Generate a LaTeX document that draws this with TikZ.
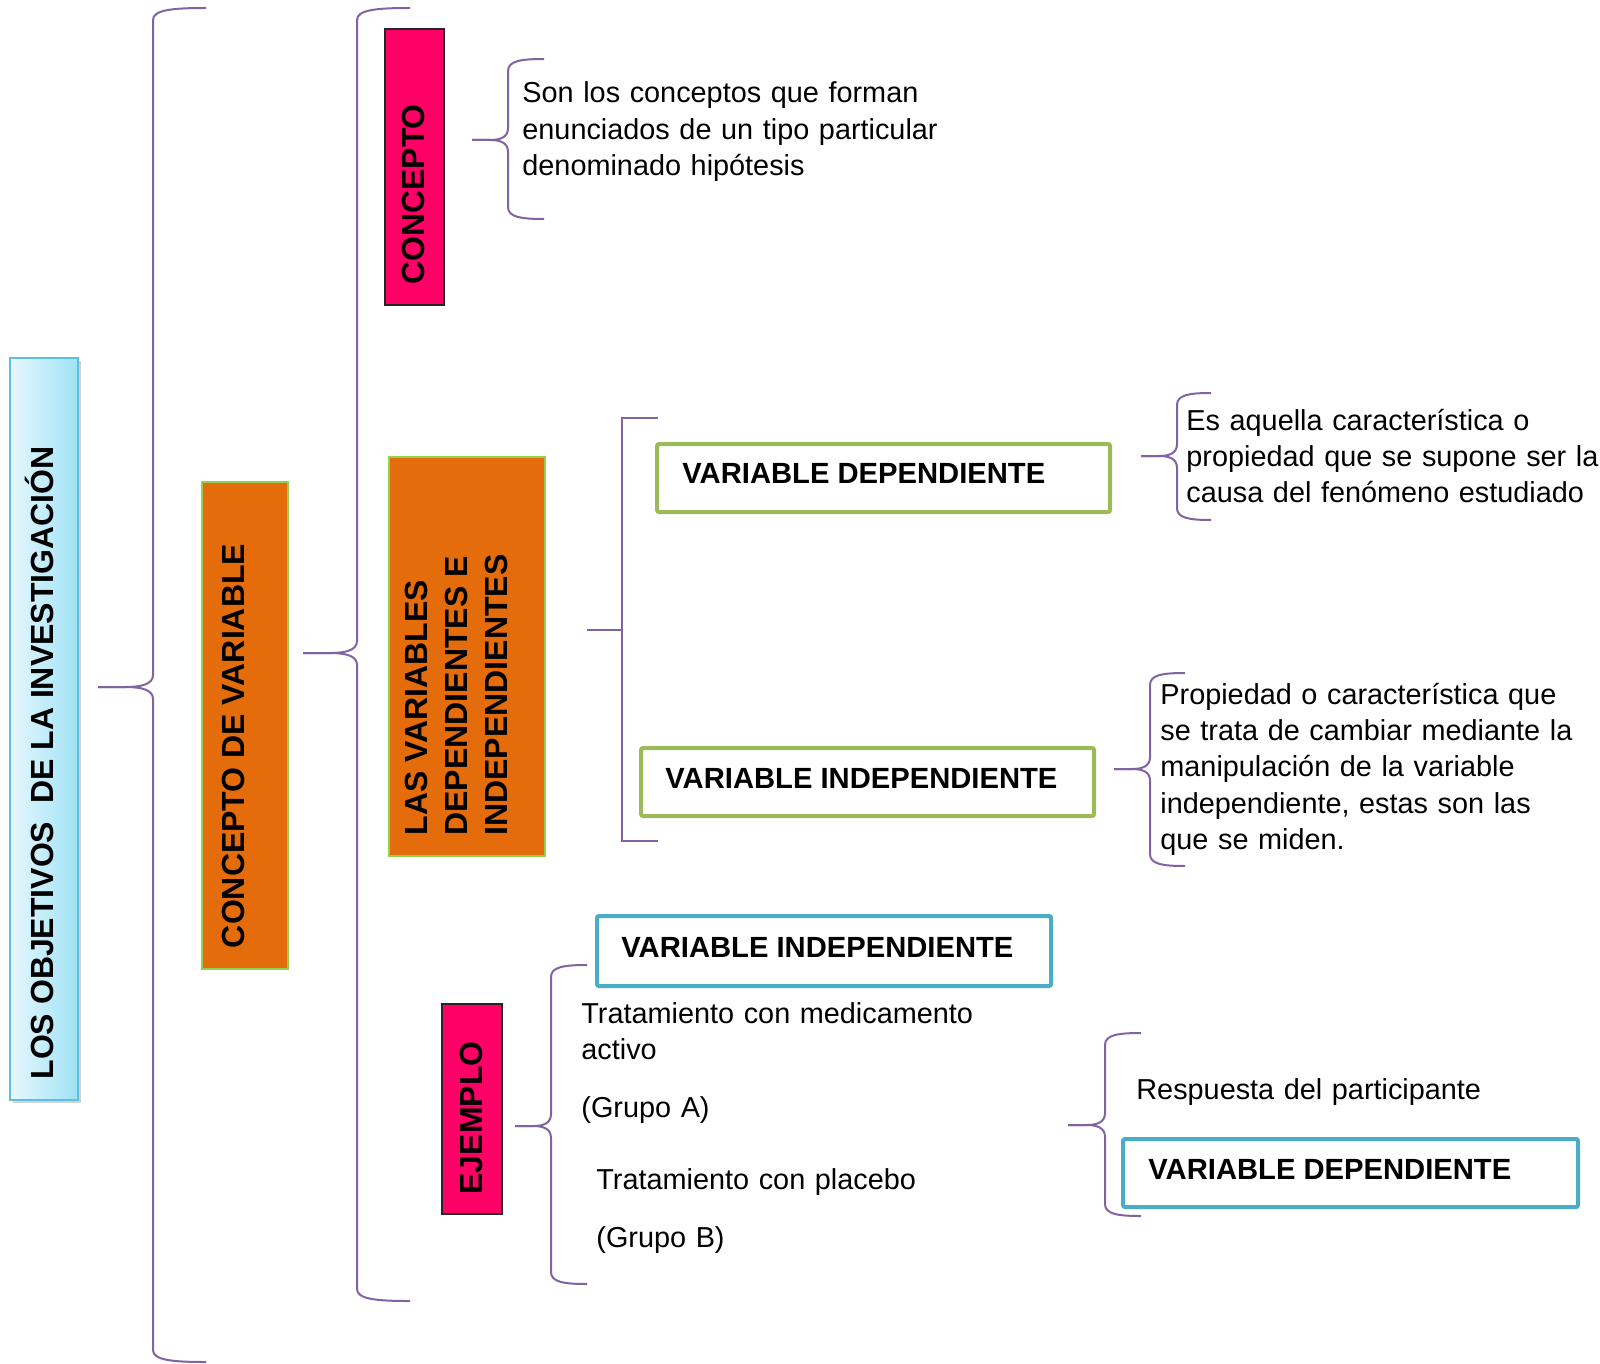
\documentclass[tikz,border=0pt]{standalone}
\usepackage{fontspec}
\setmainfont{Liberation Sans}
\usetikzlibrary{shadows}
\definecolor{lnpurple}{HTML}{8064A2}
\definecolor{pinkfill}{HTML}{FF0066}
\definecolor{orangefill}{HTML}{E46C0A}
\definecolor{greenborder}{HTML}{9BBB59}
\definecolor{blueborder}{HTML}{4BACC6}
\definecolor{limeborder}{HTML}{92D050}
\definecolor{cyanL}{HTML}{E6F8FD}
\definecolor{cyanR}{HTML}{A0E2F6}
\definecolor{cyanB}{HTML}{5BC0DE}
\tikzset{
 bracepath/.style={draw=lnpurple, line width=1pt},
 pinkbox/.style={fill=pinkfill, draw=black!85, line width=1pt, inner sep=0pt},
 orangebox/.style={fill=orangefill, draw=limeborder, line width=0.6pt, inner sep=0pt},
 greenbox/.style={draw=greenborder, line width=2pt, rounded corners=1pt, inner sep=0pt},
 bluebox/.style={draw=blueborder, line width=2pt, rounded corners=1pt, inner sep=0pt},
 rottext/.style={rotate=90, font=\fontsize{16}{20}\selectfont\bfseries, inner sep=0pt, align=left},
 boxtext/.style={font=\fontsize{14.6}{18}\selectfont\bfseries, inner sep=0pt, anchor=west},
 bodytext/.style={font=\fontsize{14.42}{18.2}\selectfont, inner sep=0pt, anchor=base west, text width=300pt, align=left},
}
% #1 xtip, #2 ytip, #3 xvert, #4 xend, #5 ytop, #6 ybottom
\newcommand\mybrace[6]{%
 \draw[bracepath] (#4,#5) .. controls ({#3+0.35*(#4-#3)},#5) and (#3,#5+2) .. (#3,#5+12)
   -- (#3,#2-12) .. controls (#3,#2-3) and ({#3-0.2*(#3-#1)},#2) .. ({#3-0.5*(#3-#1)},#2) -- (#1,#2);
 \draw[bracepath] (#1,#2) -- ({#3-0.5*(#3-#1)},#2) .. controls ({#3-0.2*(#3-#1)},#2) and (#3,#2+3) .. (#3,#2+12)
   -- (#3,#6-12) .. controls (#3,#6-2) and ({#3+0.35*(#4-#3)},#6) .. (#4,#6);
}
\begin{document}
\begin{tikzpicture}[x=0.5pt,y=-0.5pt]
\useasboundingbox (0,0) rectangle (1600,1364);

% left title box
\node[left color=cyanL, right color=cyanR, draw=cyanB, line width=0.8pt,
      drop shadow={shadow xshift=1.5pt, shadow yshift=-1.5pt, opacity=0.35},
      minimum width=34pt, minimum height=371pt, inner sep=0pt] (lobj) at (44,729) {};
\node[rottext] (lobjt) at (39,763) {LOS OBJETIVOS\ \ DE LA INVESTIGACIÓN};

\mybrace{98}{687}{153}{206}{8}{1362}

\node[orangebox, minimum width=43pt, minimum height=243.5pt] (cvar) at (245,725.5) {};
\node[rottext] (cvart) at (233,746) {CONCEPTO DE VARIABLE};

\mybrace{303}{653}{357}{410}{8}{1301}

% CONCEPTO
\node[pinkbox, minimum width=29.5pt, minimum height=138pt] (conc) at (414.5,167) {};
\node[rottext] (conct) at (413,194.5) {CONCEPTO};
\mybrace{472}{140}{508}{544}{59}{219}
\node[bodytext] (t1) at (522,103) {Son los conceptos que forman\\enunciados de un tipo particular\\denominado hipótesis};

% LAS VARIABLES
\node[orangebox, minimum width=78pt, minimum height=199.5pt] (lvar) at (467,656.5) {};
\node[rottext] (lvart) at (456,695) {LAS VARIABLES\\DEPENDIENTES E\\INDEPENDIENTES};

\coordinate (bk) at (587,630);
\draw[bracepath] (bk) -- (622,630);
\draw[bracepath] (658,418) -- (622,418) -- (622,841) -- (658,841);

\node[greenbox, minimum width=226.5pt, minimum height=34pt] (vdep) at (883.5,478) {};
\node[boxtext] (vdept) at (682,473) {VARIABLE DEPENDIENTE};
\node[greenbox, minimum width=226.5pt, minimum height=34pt] (vind) at (867.5,782) {};
\node[boxtext] (vindt) at (665,778) {VARIABLE INDEPENDIENTE};

\mybrace{1141}{456}{1177}{1211}{393}{520}
\node[bodytext] (t2) at (1186,430) {Es aquella característica o\\propiedad que se supone ser la\\causa del fenómeno estudiado};

\mybrace{1114}{769}{1150}{1185}{673}{866}
\node[bodytext] (t3) at (1160,704) {Propiedad o característica que\\se trata de cambiar mediante la\\manipulación de la variable\\independiente, estas son las\\que se miden.};

% EJEMPLO
\node[pinkbox, minimum width=30pt, minimum height=105pt] (ejem) at (472,1109) {};
\node[rottext] (ejemt) at (471,1118) {EJEMPLO};
\mybrace{515}{1126}{551}{587}{965}{1284}

\node[bluebox, minimum width=227pt, minimum height=35pt] (vind2) at (824,951) {};
\node[boxtext] (vind2t) at (621,947) {VARIABLE INDEPENDIENTE};

\node[bodytext] (t4) at (581,1023) {Tratamiento con medicamento\\activo};
\node[bodytext] (t5) at (581,1117) {(Grupo A)};
\node[bodytext] (t6) at (596,1189) {Tratamiento con placebo};
\node[bodytext] (t7) at (596,1247) {(Grupo B)};

\mybrace{1068}{1125}{1105}{1141}{1033}{1216}
\node[bodytext] (t8) at (1136,1099) {Respuesta del participante};
\node[bluebox, minimum width=227.5pt, minimum height=34pt] (vdep2) at (1350.5,1173) {};
\node[boxtext] (vdep2t) at (1148,1169) {VARIABLE DEPENDIENTE};
\end{tikzpicture}
\end{document}
